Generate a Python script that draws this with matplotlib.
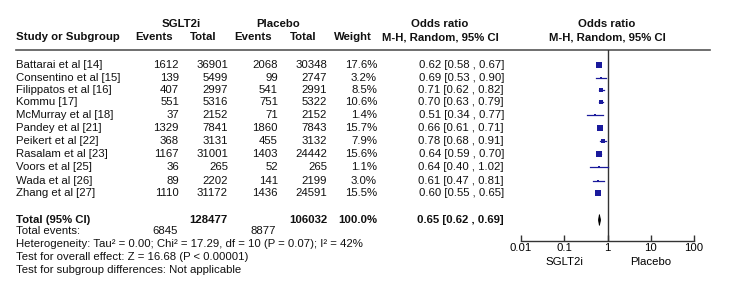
"""Forest plot: SGLT2i vs placebo, odds ratios (M-H, random)."""
import matplotlib.pyplot as plt
import numpy as np

plt.rcParams['font.family'] = ['Liberation Sans', 'DejaVu Sans']

studies = ['Battarai et al [14]', 'Consentino et al [15]', 'Filippatos et al [16]',
           'Kommu [17]', 'McMurray et al [18]', 'Pandey et al [21]',
           'Peikert et al [22]', 'Rasalam et al [23]', 'Voors et al [25]',
           'Wada et al [26]', 'Zhang et al [27]']
sglt_events = [1612, 139, 407, 551, 37, 1329, 368, 1167, 36, 89, 1110]
sglt_total = [36901, 5499, 2997, 5316, 2152, 7841, 3131, 31001, 265, 2202, 31172]
plac_events = [2068, 99, 541, 751, 71, 1860, 455, 1403, 52, 141, 1436]
plac_total = [30348, 2747, 2991, 5322, 2152, 7843, 3132, 24442, 265, 2199, 24591]
weight = [17.6, 3.2, 8.5, 10.6, 1.4, 15.7, 7.9, 15.6, 1.1, 3.0, 15.5]
odds = [0.62, 0.69, 0.71, 0.70, 0.51, 0.66, 0.78, 0.64, 0.64, 0.61, 0.60]
ci_lo = [0.58, 0.53, 0.62, 0.63, 0.34, 0.61, 0.68, 0.59, 0.40, 0.47, 0.55]
ci_hi = [0.67, 0.90, 0.82, 0.79, 0.77, 0.71, 0.91, 0.70, 1.02, 0.81, 0.65]

total_or, total_lo, total_hi = 0.65, 0.62, 0.69
total_sglt, total_plac = 128477, 106032
events_sglt, events_plac = 6845, 8877

ticks = [0.01, 0.1, 1, 10, 100]
tick_labels = ['0.01', '0.1', '1', '10', '100']

W, H = 750, 304
fig = plt.figure(figsize=(W / 100, H / 100), dpi=100)
fig.patch.set_facecolor('white')

# background axes in pixel units for all the table text
bg = fig.add_axes([0, 0, 1, 1])
bg.set_xlim(0, W)
bg.set_ylim(H, 0)
bg.axis('off')

fs = 8.2
navy = '#1a1a9c'

def txt(x, y, s, ha='left', bold=False):
    bg.text(x, y, s, ha=ha, va='center', fontsize=fs,
            fontweight='bold' if bold else 'normal', color='#111111')

# headers
txt(181, 24, 'SGLT2i', ha='center', bold=True)
txt(278, 24, 'Placebo', ha='center', bold=True)
txt(440, 24, 'Odds ratio', ha='center', bold=True)
txt(607, 24, 'Odds ratio', ha='center', bold=True)
txt(16, 37, 'Study or Subgroup', bold=True)
txt(173, 37, 'Events', ha='right', bold=True)
txt(217, 37, 'Total', ha='right', bold=True)
txt(272, 37, 'Events', ha='right', bold=True)
txt(317, 37, 'Total', ha='right', bold=True)
txt(372, 37, 'Weight', ha='right', bold=True)
txt(382, 37, 'M-H, Random, 95% CI', bold=True)
txt(607, 37, 'M-H, Random, 95% CI', ha='center', bold=True)

bg.plot([16, 710], [50, 50], color='#555555', lw=1.2)

row_y = [65, 78, 90, 102, 115, 128, 141, 154, 167, 181, 193]
for i, name in enumerate(studies):
    y = row_y[i]
    txt(16, y, name)
    txt(179, y, str(sglt_events[i]), ha='right')
    txt(228, y, str(sglt_total[i]), ha='right')
    txt(278, y, str(plac_events[i]), ha='right')
    txt(327, y, str(plac_total[i]), ha='right')
    txt(377, y, '%.1f%%' % weight[i], ha='right')
    txt(504, y, '%.2f [%.2f , %.2f]' % (odds[i], ci_lo[i], ci_hi[i]), ha='right')

ty = 220
txt(16, ty, 'Total (95% CI)', bold=True)
txt(228, ty, str(total_sglt), ha='right', bold=True)
txt(327, ty, str(total_plac), ha='right', bold=True)
txt(377, ty, '100.0%', ha='right', bold=True)
txt(504, ty, '%.2f [%.2f , %.2f]' % (total_or, total_lo, total_hi), ha='right', bold=True)
txt(16, 231, 'Total events:')
txt(178, 231, str(events_sglt), ha='right')
txt(276, 231, str(events_plac), ha='right')
txt(16, 244, 'Heterogeneity: Tau\u00b2 = 0.00; Chi\u00b2 = 17.29, df = 10 (P = 0.07); I\u00b2 = 42%')
txt(16, 257, 'Test for overall effect: Z = 16.68 (P < 0.00001)')
txt(16, 270, 'Test for subgroup differences: Not applicable')

# forest axes: x log scale from 0.01 to 100, y in pixel rows
x0, x1 = 521, 694
y_top, y_axis = 50, 241
ax = fig.add_axes([x0 / W, 1 - y_axis / H, (x1 - x0) / W, (y_axis - y_top) / H])
ax.patch.set_alpha(0)
ax.set_xscale('log')
ax.set_xlim(0.01, 100)
ax.set_ylim(y_axis, y_top)
for s in ['top', 'left', 'right']:
    ax.spines[s].set_visible(False)
ax.spines['bottom'].set_color('#333333')
ax.spines['bottom'].set_linewidth(1.0)
ax.set_yticks([])
ax.set_xticks(ticks)
ax.set_xticklabels(tick_labels)
ax.minorticks_off()
ax.tick_params(axis='x', direction='in', length=4, width=1.0, color='#333333',
               labelsize=fs, pad=1.5)

ax.plot([1, 1], [y_top, y_axis], color='#333333', lw=1.0)

for i in range(len(studies)):
    y = row_y[i]
    ax.plot([ci_lo[i], ci_hi[i]], [y, y], color=navy, lw=0.9)
    side = max(2.2, 1.45 * np.sqrt(weight[i]))
    ax.plot(odds[i], y, marker='s', ms=side * 0.72, color=navy, mec=navy, mew=0)

ax.fill([total_lo, total_or, total_hi, total_or], [ty, ty - 5.5, ty, ty + 5.5],
        color='black', lw=0.6)

# direction labels under the axis
ax.text(0.1, 262, 'SGLT2i', ha='center', va='center', fontsize=fs, clip_on=False)
ax.text(10, 262, 'Placebo', ha='center', va='center', fontsize=fs, clip_on=False)

fig.savefig('out.png', dpi=100, facecolor='white')
